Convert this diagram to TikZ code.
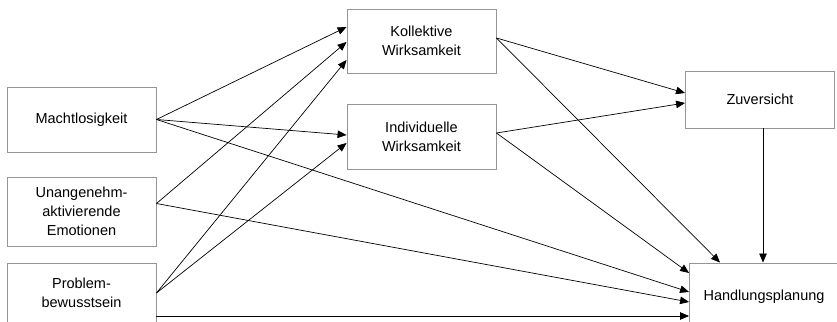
\documentclass[tikz,border=0pt]{standalone}
\usepackage{fontspec}
\setmainfont{Liberation Sans}
\usetikzlibrary{positioning,arrows.meta,calc}
\definecolor{rahmen}{HTML}{959595}

\begin{document}
\begin{tikzpicture}[
  x=1pt, y=1pt, font=\fontsize{14.5}{19}\selectfont, >={Triangle[length=9pt,width=7.5pt]},
  var/.style={draw=rahmen, line width=0.9pt, align=center, minimum width=149pt, inner sep=2pt},
  pfad/.style={->, line width=0.7pt},
]
\clip (0,0) rectangle (837,321);
\node[var, minimum height=65pt] (macht) at (81.5,201.5) {Machtlosigkeit};
\node[var, minimum height=69pt] (unang) at (81.5,109.5) {Unangenehm-\\aktivierende\\Emotionen};
\node[var, minimum height=60pt] (problem) at (81.5,28) {Problem-\\bewusstsein};
\node[var, minimum height=64pt] (koll) at (421.5,280) {Kollektive\\Wirksamkeit};
\node[var, minimum height=65pt] (indiv) at (421.5,184.5) {Individuelle\\Wirksamkeit};
\node[var, minimum height=57pt] (zuv) at (760,221.5) {Zuversicht};
\node[var, minimum height=68pt] (handl) at (764,24) {Handlungsplanung};
% Praediktoren -> Wirksamkeit
\draw[pfad] (macht.east) -- ([yshift=14pt]koll.west);
\draw[pfad] ([yshift=8pt]unang.east) -- ([yshift=-1pt]koll.west);
\draw[pfad] (problem.east) -- ([yshift=-19pt]koll.west);
\draw[pfad] (macht.east) -- ([yshift=1.5pt]indiv.west);
\draw[pfad] (problem.east) -- ([yshift=-6.5pt]indiv.west);
% Praediktoren -> Handlungsplanung
\draw[pfad] (macht.east) -- ([yshift=5pt]handl.west);
\draw[pfad] ([yshift=8pt]unang.east) -- ([yshift=-5pt]handl.west);
\draw[pfad] ([yshift=-23pt]problem.east) -- ([yshift=-19pt]handl.west);
% Wirksamkeit -> Zuversicht / Handlungsplanung
\draw[pfad] ([yshift=3pt]koll.east) -- ([yshift=6.5pt]zuv.west);
\draw[pfad] ([yshift=3pt]koll.east) -- ([xshift=-44pt]handl.north);
\draw[pfad] ([yshift=3.5pt]indiv.east) -- ([yshift=-3.5pt]zuv.west);
\draw[pfad] ([yshift=3.5pt]indiv.east) -- ([yshift=24pt]handl.west);
\draw[pfad] ([xshift=3pt]zuv.south) -- ([xshift=3pt]zuv.south |- handl.north);
\end{tikzpicture}
\end{document}
